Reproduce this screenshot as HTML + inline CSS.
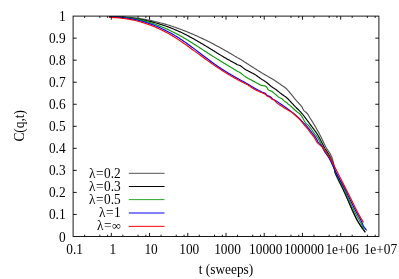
<!DOCTYPE html>
<html><head><meta charset="utf-8"><title>C(q,t)</title>
<style>html,body{margin:0;padding:0;background:#fff;}svg{display:block;}.t{will-change:transform;filter:grayscale(1);}text{font-family:"Liberation Serif",serif;font-size:14px;fill:#000;}</style>
</head><body>
<svg width="399" height="279" viewBox="0 0 399 279">
<rect x="0" y="0" width="399" height="279" fill="#ffffff"/>
<path d="M109.00 17.13 L110.00 17.07 L111.00 17.03 L112.00 16.99 L113.00 16.95 L114.00 16.93 L115.00 16.91 L116.00 16.89 L117.00 16.89 L118.00 16.89 L119.00 16.90 L120.00 16.91 L121.00 16.93 L122.00 16.96 L123.00 17.00 L124.00 17.04 L125.00 17.08 L126.00 17.14 L127.00 17.20 L128.00 17.27 L129.00 17.34 L130.00 17.42 L131.00 17.51 L132.00 17.60 L133.00 17.70 L134.00 17.81 L135.00 17.92 L136.00 18.04 L137.00 18.17 L138.00 18.30 L139.00 18.44 L140.00 18.58 L141.00 18.73 L142.00 18.89 L143.00 19.05 L144.00 19.22 L145.00 19.39 L146.00 19.57 L147.00 19.76 L148.00 19.95 L149.00 20.15 L150.00 20.35 L151.00 20.56 L152.00 20.78 L153.00 21.00 L154.00 21.23 L155.00 21.46 L156.00 21.70 L157.00 21.95 L158.00 22.20 L159.00 22.45 L160.00 22.71 L161.00 22.98 L162.00 23.25 L163.00 23.53 L164.00 23.82 L165.00 24.11 L166.00 24.40 L167.00 24.70 L168.00 25.01 L169.00 25.32 L170.00 25.63 L171.00 25.96 L172.00 26.28 L173.00 26.61 L174.00 26.95 L175.00 27.29 L176.00 27.64 L177.00 27.99 L178.00 28.35 L179.00 28.71 L180.00 29.08 L181.00 29.46 L182.00 29.83 L183.00 30.22 L184.00 30.60 L185.00 31.00 L186.00 31.39 L187.00 31.80 L188.00 32.20 L189.00 32.62 L190.00 33.03 L191.00 33.45 L192.00 33.88 L193.00 34.31 L194.00 34.75 L195.00 35.19 L196.00 35.63 L197.00 36.08 L198.00 36.53 L199.00 36.99 L200.00 37.45 L201.00 37.92 L202.00 38.39 L203.00 38.87 L204.00 39.35 L205.00 39.83 L206.00 40.32 L207.00 40.82 L208.00 41.31 L209.00 41.81 L210.00 42.32 L211.00 42.83 L212.00 43.34 L213.00 43.86 L214.00 44.38 L215.00 44.91 L216.00 45.44 L217.00 45.97 L218.00 46.51 L219.00 47.05 L220.00 47.60 L221.00 48.15 L222.00 48.70 L223.00 49.26 L224.00 49.82 L225.00 50.39 L226.00 50.95 L227.00 51.53 L228.00 52.10 L229.00 52.68 L230.00 53.26 L231.00 53.85 L232.00 54.44 L233.00 55.03 L234.00 55.63 L235.00 56.23 L236.00 56.84 L237.00 57.44 L237.66 57.80 L238.33 58.14 L239.00 58.47 L239.67 58.82 L240.32 59.18 L240.96 59.57 L241.60 59.97 L242.23 60.37 L242.85 60.79 L243.48 61.20 L244.11 61.62 L244.73 62.03 L245.36 62.43 L246.00 62.84 L246.63 63.25 L247.25 63.66 L247.88 64.06 L248.51 64.47 L249.14 64.88 L249.77 65.29 L250.40 65.70 L251.03 66.10 L251.66 66.51 L252.29 66.91 L252.93 67.32 L253.56 67.72 L254.19 68.12 L254.83 68.52 L255.46 68.92 L256.10 69.32 L256.73 69.72 L257.37 70.12 L258.00 70.52 L258.64 70.91 L259.28 71.31 L259.91 71.70 L260.55 72.10 L261.19 72.49 L261.83 72.88 L262.47 73.27 L263.11 73.66 L263.75 74.05 L264.39 74.44 L265.04 74.82 L265.68 75.20 L266.33 75.58 L266.99 75.95 L267.64 76.32 L268.29 76.69 L268.95 77.06 L269.60 77.42 L270.26 77.79 L270.91 78.16 L271.56 78.53 L272.21 78.91 L272.85 79.29 L273.49 79.68 L274.13 80.08 L274.76 80.48 L275.38 80.90 L276.00 81.32 L276.62 81.74 L277.24 82.17 L277.85 82.60 L278.47 83.03 L279.08 83.47 L279.69 83.90 L280.31 84.33 L280.92 84.76 L281.54 85.19 L282.16 85.61 L282.80 86.01 L283.44 86.41 L284.07 86.82 L284.68 87.25 L285.25 87.71 L285.81 88.20 L286.35 88.71 L286.87 89.24 L287.39 89.79 L287.89 90.35 L288.39 90.91 L288.88 91.49 L289.37 92.07 L289.86 92.65 L290.34 93.23 L290.83 93.80 L291.32 94.37 L291.80 94.95 L292.27 95.53 L292.73 96.12 L293.20 96.71 L293.66 97.31 L294.12 97.90 L294.58 98.49 L295.05 99.07 L295.53 99.65 L296.02 100.22 L296.51 100.78 L297.02 101.33 L297.54 101.88 L298.05 102.42 L298.57 102.97 L299.07 103.52 L299.57 104.08 L300.08 104.64 L300.59 105.20 L301.08 105.77 L301.55 106.36 L301.98 106.96 L302.34 107.61 L302.65 108.31 L302.96 109.01 L303.29 109.67 L303.70 110.27 L304.19 110.81 L304.75 111.32 L305.34 111.81 L305.94 112.30 L306.52 112.79 L307.07 113.31 L307.55 113.86 L307.97 114.46 L308.37 115.10 L308.74 115.75 L309.10 116.42 L309.47 117.08 L309.84 117.74 L310.23 118.38 L310.64 119.01 L311.04 119.64 L311.45 120.27 L311.86 120.90 L312.27 121.53 L312.67 122.16 L313.06 122.80 L313.45 123.44 L313.84 124.09 L314.22 124.73 L314.60 125.38 L314.98 126.02 L315.36 126.67 L315.74 127.32 L316.12 127.97 L316.49 128.62 L316.86 129.27 L317.23 129.92 L317.60 130.58 L317.96 131.24 L318.32 131.89 L318.68 132.55 L319.04 133.21 L319.40 133.87 L319.75 134.53 L320.10 135.19 L320.45 135.86 L320.78 136.53 L321.11 137.20 L321.44 137.88 L321.76 138.56 L322.08 139.24 L322.40 139.92 L322.71 140.60 L323.03 141.28 L323.35 141.97 L323.67 142.65 L323.99 143.33 L324.31 144.00 L324.64 144.68 L324.98 145.35 L325.32 146.01 L325.67 146.67 L326.02 147.33 L326.39 147.98 L326.77 148.62 L327.18 149.25 L327.60 149.87 L328.04 150.49 L328.47 151.10 L328.90 151.72 L329.31 152.35 L329.71 152.99 L330.07 153.63 L330.43 154.29 L330.77 154.96 L331.10 155.64 L331.42 156.32 L331.71 157.01 L331.98 157.71 L332.23 158.42 L332.46 159.13 L332.68 159.85 L332.89 160.57 L333.08 161.30 L333.26 162.02 L333.44 162.75 L333.60 163.49 L333.75 164.22 L333.89 164.96 L334.02 165.70 L334.14 166.44 L334.26 167.18 L334.36 167.92 L334.46 168.66 L334.54 169.41 L334.61 170.16 L334.67 170.92 L334.75 171.66 L334.87 172.38 L335.05 173.09 L335.29 173.79 L335.58 174.49 L335.90 175.18 L336.24 175.86 L336.59 176.54 L336.93 177.22 L337.26 177.91 L337.57 178.59 L337.89 179.27 L338.21 179.94 L338.54 180.61 L338.87 181.29 L339.21 181.96 L339.55 182.62 L339.90 183.29 L340.24 183.96 L340.59 184.62 L340.94 185.29 L341.28 185.96 L341.62 186.62 L341.97 187.29 L342.30 187.96 L342.64 188.63 L342.97 189.31 L343.29 189.98 L343.61 190.66 L343.93 191.34 L344.24 192.02 L344.55 192.70 L344.86 193.39 L345.17 194.07 L345.48 194.75 L345.78 195.44 L346.09 196.12 L346.39 196.81 L346.70 197.50 L347.00 198.18 L347.30 198.87 L347.60 199.56 L347.91 200.24 L348.21 200.93 L348.50 201.62 L348.80 202.31 L349.09 203.00 L349.39 203.69 L349.68 204.38 L349.97 205.07 L350.26 205.76 L350.55 206.46 L350.84 207.15 L351.14 207.84 L351.44 208.53 L351.74 209.21 L352.04 209.90 L352.35 210.58 L352.66 211.26 L352.97 211.94 L353.29 212.62 L353.61 213.30 L353.93 213.98 L354.25 214.66 L354.58 215.34 L354.90 216.02 L355.23 216.69 L355.57 217.37 L355.91 218.04 L356.25 218.71 L356.61 219.37 L356.96 220.03 L357.33 220.68 L357.70 221.33 L358.08 221.97 L358.47 222.60 L358.89 223.22 L359.31 223.84 L359.75 224.45 L360.20 225.05 L360.65 225.66 L361.10 226.26 L361.54 226.87 L361.98 227.47 L362.42 228.09 L362.85 228.70 L363.29 229.31 L363.72 229.92 L364.15 230.53 L364.59 231.14 L365.02 231.75 L365.20 232.00" fill="none" stroke="#525252" stroke-width="1.15" stroke-linejoin="round" stroke-linecap="butt"/>
<path d="M109.00 16.86 L110.00 16.85 L111.00 16.85 L112.00 16.86 L113.00 16.87 L114.00 16.89 L115.00 16.91 L116.00 16.94 L117.00 16.97 L118.00 17.01 L119.00 17.05 L120.00 17.10 L121.00 17.16 L122.00 17.22 L123.00 17.29 L124.00 17.36 L125.00 17.44 L126.00 17.52 L127.00 17.62 L128.00 17.71 L129.00 17.82 L130.00 17.92 L131.00 18.04 L132.00 18.16 L133.00 18.29 L134.00 18.42 L135.00 18.56 L136.00 18.71 L137.00 18.86 L138.00 19.02 L139.00 19.18 L140.00 19.35 L141.00 19.53 L142.00 19.71 L143.00 19.91 L144.00 20.10 L145.00 20.31 L146.00 20.52 L147.00 20.73 L148.00 20.96 L149.00 21.19 L150.00 21.43 L151.00 21.67 L152.00 21.92 L153.00 22.18 L154.00 22.44 L155.00 22.72 L156.00 23.00 L157.00 23.28 L158.00 23.57 L159.00 23.87 L160.00 24.18 L161.00 24.50 L162.00 24.82 L163.00 25.15 L164.00 25.48 L165.00 25.83 L166.00 26.18 L167.00 26.54 L168.00 26.90 L169.00 27.28 L170.00 27.66 L171.00 28.05 L172.00 28.44 L173.00 28.84 L174.00 29.26 L175.00 29.68 L176.00 30.10 L177.00 30.54 L178.00 30.98 L179.00 31.43 L180.00 31.89 L181.00 32.35 L182.00 32.83 L183.00 33.31 L184.00 33.80 L185.00 34.30 L186.00 34.81 L187.00 35.32 L188.00 35.84 L189.00 36.37 L190.00 36.90 L191.00 37.45 L192.00 37.99 L193.00 38.55 L194.00 39.11 L195.00 39.67 L196.00 40.24 L197.00 40.81 L198.00 41.38 L199.00 41.96 L200.00 42.55 L201.00 43.14 L202.00 43.73 L203.00 44.32 L204.00 44.92 L205.00 45.53 L206.00 46.13 L207.00 46.74 L208.00 47.35 L209.00 47.96 L210.00 48.58 L211.00 49.20 L212.00 49.82 L213.00 50.44 L214.00 51.06 L215.00 51.68 L216.00 52.30 L217.00 52.92 L218.00 53.54 L219.00 54.16 L220.00 54.77 L221.00 55.38 L222.00 55.98 L223.00 56.58 L224.00 57.17 L225.00 57.75 L226.00 58.33 L227.00 58.90 L228.00 59.47 L229.00 60.03 L230.00 60.59 L231.00 61.14 L232.00 61.69 L233.00 62.24 L234.00 62.79 L235.00 63.34 L236.00 63.88 L237.00 64.43 L237.69 64.72 L238.41 64.97 L239.12 65.22 L239.81 65.51 L240.46 65.85 L241.08 66.24 L241.69 66.68 L242.29 67.14 L242.88 67.62 L243.47 68.09 L244.07 68.56 L244.68 68.99 L245.31 69.39 L245.95 69.78 L246.60 70.15 L247.26 70.51 L247.92 70.86 L248.59 71.20 L249.26 71.54 L249.93 71.88 L250.61 72.22 L251.28 72.56 L251.95 72.90 L252.62 73.25 L253.28 73.60 L253.93 73.97 L254.58 74.34 L255.21 74.73 L255.84 75.14 L256.46 75.56 L257.07 75.99 L257.68 76.43 L258.29 76.87 L258.90 77.32 L259.50 77.76 L260.11 78.21 L260.72 78.64 L261.34 79.07 L261.97 79.48 L262.60 79.87 L263.26 80.25 L263.91 80.62 L264.55 81.01 L265.17 81.42 L265.78 81.86 L266.37 82.31 L266.95 82.79 L267.52 83.27 L268.09 83.77 L268.66 84.27 L269.22 84.76 L269.79 85.26 L270.37 85.74 L270.95 86.21 L271.54 86.67 L272.15 87.10 L272.78 87.51 L273.42 87.90 L274.06 88.29 L274.70 88.69 L275.31 89.12 L275.92 89.56 L276.51 90.01 L277.10 90.47 L277.69 90.94 L278.27 91.42 L278.85 91.89 L279.44 92.37 L280.02 92.84 L280.61 93.31 L281.20 93.77 L281.80 94.22 L282.41 94.66 L283.03 95.09 L283.65 95.52 L284.27 95.94 L284.89 96.37 L285.50 96.81 L286.09 97.26 L286.67 97.72 L287.24 98.21 L287.78 98.71 L288.32 99.24 L288.84 99.77 L289.35 100.32 L289.86 100.87 L290.37 101.43 L290.88 101.99 L291.39 102.55 L291.90 103.10 L292.42 103.64 L292.93 104.18 L293.45 104.73 L293.96 105.28 L294.48 105.82 L294.99 106.36 L295.51 106.90 L296.04 107.44 L296.57 107.97 L297.11 108.49 L297.66 109.00 L298.21 109.52 L298.75 110.04 L299.28 110.56 L299.81 111.10 L300.32 111.64 L300.82 112.20 L301.31 112.77 L301.79 113.35 L302.27 113.93 L302.74 114.51 L303.21 115.09 L303.67 115.68 L304.13 116.27 L304.59 116.87 L305.04 117.47 L305.49 118.07 L305.94 118.67 L306.39 119.27 L306.84 119.87 L307.28 120.48 L307.73 121.08 L308.17 121.68 L308.62 122.29 L309.07 122.89 L309.51 123.49 L309.97 124.09 L310.42 124.69 L310.87 125.29 L311.33 125.89 L311.78 126.49 L312.24 127.09 L312.69 127.69 L313.15 128.29 L313.60 128.89 L314.04 129.50 L314.49 130.10 L314.93 130.71 L315.36 131.32 L315.79 131.94 L316.21 132.55 L316.63 133.17 L317.04 133.80 L317.44 134.43 L317.84 135.06 L318.22 135.70 L318.59 136.34 L318.96 136.99 L319.32 137.65 L319.67 138.31 L320.02 138.98 L320.36 139.65 L320.70 140.32 L321.03 140.99 L321.37 141.66 L321.70 142.34 L322.04 143.01 L322.38 143.68 L322.72 144.35 L323.06 145.02 L323.41 145.69 L323.77 146.35 L324.13 147.01 L324.50 147.66 L324.88 148.30 L325.27 148.94 L325.68 149.57 L326.09 150.20 L326.50 150.82 L326.92 151.45 L327.33 152.08 L327.73 152.71 L328.11 153.35 L328.50 154.00 L328.89 154.64 L329.27 155.29 L329.64 155.94 L330.00 156.60 L330.33 157.27 L330.65 157.95 L330.95 158.63 L331.24 159.32 L331.53 160.02 L331.82 160.71 L332.12 161.40 L332.42 162.09 L332.72 162.78 L333.01 163.48 L333.27 164.18 L333.48 164.89 L333.67 165.61 L333.84 166.34 L333.99 167.08 L334.15 167.82 L334.31 168.55 L334.47 169.28 L334.62 170.02 L334.78 170.76 L334.96 171.49 L335.16 172.20 L335.41 172.90 L335.69 173.59 L336.00 174.27 L336.33 174.95 L336.67 175.62 L337.01 176.30 L337.35 176.97 L337.67 177.65 L337.99 178.33 L338.30 179.01 L338.62 179.69 L338.94 180.37 L339.26 181.05 L339.59 181.73 L339.91 182.40 L340.23 183.08 L340.56 183.76 L340.88 184.43 L341.20 185.11 L341.52 185.79 L341.85 186.46 L342.17 187.14 L342.49 187.82 L342.80 188.50 L343.12 189.18 L343.44 189.86 L343.75 190.54 L344.06 191.22 L344.37 191.91 L344.68 192.59 L344.99 193.27 L345.30 193.96 L345.61 194.64 L345.92 195.32 L346.22 196.01 L346.53 196.69 L346.83 197.38 L347.14 198.06 L347.44 198.75 L347.75 199.43 L348.05 200.12 L348.36 200.81 L348.66 201.49 L348.95 202.18 L349.25 202.87 L349.55 203.56 L349.84 204.25 L350.14 204.94 L350.43 205.63 L350.73 206.32 L351.02 207.01 L351.32 207.70 L351.62 208.39 L351.92 209.07 L352.23 209.76 L352.53 210.44 L352.84 211.12 L353.16 211.80 L353.48 212.48 L353.79 213.16 L354.11 213.84 L354.43 214.52 L354.75 215.20 L355.07 215.88 L355.40 216.56 L355.73 217.24 L356.06 217.91 L356.40 218.58 L356.74 219.25 L357.09 219.91 L357.45 220.57 L357.81 221.22 L358.18 221.87 L358.55 222.52 L358.93 223.16 L359.32 223.79 L359.72 224.43 L360.12 225.06 L360.52 225.69 L360.94 226.32 L361.35 226.94 L361.78 227.56 L362.21 228.17 L362.65 228.79 L363.09 229.40 L363.53 230.00 L363.99 230.61 L364.44 231.21 L364.91 231.80 L365.30 232.30" fill="none" stroke="#000000" stroke-width="1.15" stroke-linejoin="round" stroke-linecap="butt"/>
<path d="M109.00 17.11 L110.00 17.06 L111.00 17.02 L112.00 16.99 L113.00 16.96 L114.00 16.95 L115.00 16.95 L116.00 16.95 L117.00 16.97 L118.00 16.99 L119.00 17.03 L120.00 17.07 L121.00 17.13 L122.00 17.19 L123.00 17.26 L124.00 17.34 L125.00 17.43 L126.00 17.53 L127.00 17.64 L128.00 17.76 L129.00 17.88 L130.00 18.02 L131.00 18.16 L132.00 18.32 L133.00 18.48 L134.00 18.65 L135.00 18.83 L136.00 19.02 L137.00 19.22 L138.00 19.42 L139.00 19.64 L140.00 19.86 L141.00 20.10 L142.00 20.34 L143.00 20.59 L144.00 20.85 L145.00 21.11 L146.00 21.39 L147.00 21.67 L148.00 21.97 L149.00 22.27 L150.00 22.58 L151.00 22.90 L152.00 23.22 L153.00 23.56 L154.00 23.90 L155.00 24.25 L156.00 24.61 L157.00 24.98 L158.00 25.36 L159.00 25.74 L160.00 26.13 L161.00 26.53 L162.00 26.94 L163.00 27.36 L164.00 27.78 L165.00 28.22 L166.00 28.66 L167.00 29.10 L168.00 29.56 L169.00 30.02 L170.00 30.50 L171.00 30.98 L172.00 31.46 L173.00 31.96 L174.00 32.46 L175.00 32.97 L176.00 33.49 L177.00 34.02 L178.00 34.55 L179.00 35.09 L180.00 35.64 L181.00 36.19 L182.00 36.76 L183.00 37.33 L184.00 37.91 L185.00 38.49 L186.00 39.08 L187.00 39.68 L188.00 40.29 L189.00 40.90 L190.00 41.52 L191.00 42.14 L192.00 42.77 L193.00 43.40 L194.00 44.04 L195.00 44.68 L196.00 45.32 L197.00 45.97 L198.00 46.62 L199.00 47.27 L200.00 47.92 L201.00 48.58 L202.00 49.23 L203.00 49.88 L204.00 50.54 L205.00 51.19 L206.00 51.85 L207.00 52.50 L208.00 53.15 L209.00 53.80 L210.00 54.45 L211.00 55.09 L212.00 55.73 L213.00 56.37 L214.00 57.00 L215.00 57.63 L216.00 58.25 L217.00 58.87 L218.00 59.49 L219.00 60.10 L220.00 60.72 L221.00 61.33 L222.00 61.93 L223.00 62.54 L224.00 63.15 L225.00 63.75 L226.00 64.36 L227.00 64.96 L228.00 65.56 L229.00 66.17 L230.00 66.78 L231.00 67.38 L232.00 67.99 L233.00 68.60 L234.00 69.22 L235.00 69.83 L236.00 70.45 L237.00 71.08 L237.66 71.43 L238.34 71.75 L239.02 72.08 L239.69 72.42 L240.32 72.80 L240.93 73.23 L241.52 73.69 L242.10 74.17 L242.68 74.67 L243.25 75.16 L243.83 75.64 L244.43 76.10 L245.04 76.52 L245.66 76.93 L246.30 77.32 L246.94 77.70 L247.59 78.07 L248.24 78.44 L248.90 78.79 L249.56 79.15 L250.23 79.50 L250.90 79.84 L251.57 80.19 L252.24 80.53 L252.91 80.88 L253.57 81.23 L254.24 81.58 L254.90 81.94 L255.55 82.31 L256.20 82.68 L256.85 83.06 L257.51 83.43 L258.17 83.78 L258.84 84.12 L259.51 84.46 L260.19 84.81 L260.87 85.12 L261.57 85.38 L262.29 85.56 L263.04 85.68 L263.81 85.77 L264.55 85.89 L265.23 86.08 L265.89 86.45 L266.50 86.96 L267.00 87.50 L267.36 88.17 L267.65 88.91 L268.01 89.51 L268.53 89.93 L269.17 90.27 L269.89 90.56 L270.65 90.85 L271.38 91.16 L272.04 91.53 L272.64 91.95 L273.22 92.42 L273.79 92.92 L274.35 93.43 L274.92 93.93 L275.48 94.43 L276.04 94.93 L276.60 95.43 L277.19 95.89 L277.78 96.35 L278.40 96.79 L279.02 97.20 L279.66 97.59 L280.33 97.93 L281.02 98.25 L281.69 98.60 L282.28 99.02 L282.82 99.54 L283.32 100.11 L283.83 100.68 L284.37 101.20 L284.98 101.62 L285.65 101.98 L286.33 102.34 L286.94 102.75 L287.43 103.30 L287.90 103.90 L288.47 104.35 L289.13 104.74 L289.77 105.13 L290.35 105.60 L290.88 106.13 L291.40 106.68 L291.92 107.22 L292.46 107.74 L293.01 108.26 L293.55 108.78 L294.10 109.29 L294.66 109.80 L295.21 110.30 L295.78 110.79 L296.35 111.27 L296.93 111.75 L297.54 112.19 L298.17 112.61 L298.80 113.03 L299.38 113.49 L299.90 114.00 L300.39 114.57 L300.85 115.17 L301.29 115.78 L301.73 116.41 L302.15 117.02 L302.56 117.66 L302.94 118.31 L303.31 118.98 L303.67 119.65 L304.03 120.32 L304.40 120.99 L304.78 121.63 L305.19 122.25 L305.62 122.85 L306.09 123.40 L306.64 123.89 L307.24 124.36 L307.83 124.84 L308.36 125.36 L308.87 125.91 L309.37 126.48 L309.85 127.06 L310.32 127.64 L310.78 128.23 L311.22 128.84 L311.64 129.46 L312.06 130.09 L312.46 130.72 L312.87 131.36 L313.28 131.99 L313.70 132.61 L314.13 133.22 L314.59 133.81 L315.09 134.36 L315.63 134.89 L316.12 135.45 L316.55 136.04 L316.97 136.65 L317.38 137.27 L317.76 137.90 L318.14 138.55 L318.51 139.20 L318.87 139.86 L319.22 140.53 L319.56 141.20 L319.90 141.88 L320.24 142.56 L320.58 143.24 L320.93 143.91 L321.27 144.59 L321.63 145.26 L321.98 145.92 L322.35 146.58 L322.73 147.23 L323.13 147.86 L323.53 148.49 L323.95 149.12 L324.38 149.74 L324.81 150.36 L325.25 150.97 L325.69 151.59 L326.13 152.20 L326.58 152.81 L327.01 153.42 L327.45 154.04 L327.87 154.66 L328.29 155.28 L328.69 155.91 L329.08 156.54 L329.46 157.18 L329.81 157.83 L330.15 158.49 L330.48 159.16 L330.79 159.83 L331.10 160.51 L331.40 161.19 L331.69 161.88 L331.97 162.58 L332.25 163.27 L332.52 163.98 L332.79 164.68 L333.06 165.38 L333.33 166.09 L333.60 166.79 L333.87 167.50 L334.14 168.20 L334.41 168.91 L334.69 169.61 L334.97 170.30 L335.26 171.00 L335.56 171.69 L335.87 172.37 L336.18 173.05 L336.49 173.73 L336.81 174.41 L337.13 175.09 L337.45 175.76 L337.78 176.44 L338.11 177.11 L338.44 177.78 L338.78 178.46 L339.11 179.13 L339.45 179.80 L339.79 180.47 L340.12 181.14 L340.46 181.81 L340.80 182.48 L341.14 183.15 L341.48 183.82 L341.81 184.49 L342.15 185.16 L342.49 185.83 L342.82 186.50 L343.15 187.18 L343.48 187.85 L343.80 188.53 L344.13 189.20 L344.44 189.88 L344.76 190.56 L345.07 191.24 L345.38 191.93 L345.69 192.61 L346.00 193.29 L346.30 193.98 L346.61 194.67 L346.91 195.35 L347.21 196.04 L347.52 196.72 L347.82 197.41 L348.13 198.09 L348.44 198.78 L348.75 199.46 L349.06 200.14 L349.38 200.82 L349.70 201.50 L350.01 202.18 L350.33 202.86 L350.64 203.54 L350.96 204.22 L351.28 204.90 L351.60 205.58 L351.92 206.26 L352.25 206.93 L352.57 207.61 L352.90 208.29 L353.23 208.96 L353.56 209.63 L353.89 210.30 L354.23 210.97 L354.57 211.64 L354.91 212.31 L355.26 212.97 L355.61 213.63 L355.96 214.29 L356.32 214.95 L356.68 215.61 L357.05 216.26 L357.42 216.92 L357.78 217.57 L358.15 218.23 L358.52 218.88 L358.89 219.54 L359.25 220.19 L359.62 220.85 L359.98 221.50 L360.34 222.16 L360.70 222.82 L361.05 223.48 L361.41 224.14 L361.77 224.80 L362.13 225.46 L362.48 226.12 L362.84 226.78 L363.19 227.44 L363.55 228.10 L363.90 228.76 L364.26 229.42 L364.30 229.50" fill="none" stroke="#0a980a" stroke-width="1.15" stroke-linejoin="round" stroke-linecap="butt"/>
<path d="M109.00 17.02 L110.00 17.02 L111.00 17.01 L112.00 17.02 L113.00 17.04 L114.00 17.06 L115.00 17.09 L116.00 17.14 L117.00 17.19 L118.00 17.24 L119.00 17.31 L120.00 17.39 L121.00 17.47 L122.00 17.56 L123.00 17.66 L124.00 17.77 L125.00 17.89 L126.00 18.02 L127.00 18.15 L128.00 18.30 L129.00 18.45 L130.00 18.62 L131.00 18.79 L132.00 18.97 L133.00 19.16 L134.00 19.36 L135.00 19.56 L136.00 19.78 L137.00 20.00 L138.00 20.24 L139.00 20.48 L140.00 20.74 L141.00 21.00 L142.00 21.27 L143.00 21.55 L144.00 21.84 L145.00 22.14 L146.00 22.45 L147.00 22.77 L148.00 23.10 L149.00 23.43 L150.00 23.78 L151.00 24.13 L152.00 24.50 L153.00 24.88 L154.00 25.26 L155.00 25.66 L156.00 26.06 L157.00 26.47 L158.00 26.90 L159.00 27.33 L160.00 27.77 L161.00 28.23 L162.00 28.69 L163.00 29.16 L164.00 29.65 L165.00 30.14 L166.00 30.64 L167.00 31.15 L168.00 31.68 L169.00 32.21 L170.00 32.75 L171.00 33.30 L172.00 33.87 L173.00 34.44 L174.00 35.02 L175.00 35.62 L176.00 36.22 L177.00 36.84 L178.00 37.46 L179.00 38.10 L180.00 38.74 L181.00 39.40 L182.00 40.07 L183.00 40.74 L184.00 41.43 L185.00 42.12 L186.00 42.82 L187.00 43.53 L188.00 44.25 L189.00 44.97 L190.00 45.70 L191.00 46.43 L192.00 47.17 L193.00 47.91 L194.00 48.66 L195.00 49.41 L196.00 50.16 L197.00 50.92 L198.00 51.68 L199.00 52.44 L200.00 53.20 L201.00 53.96 L202.00 54.72 L203.00 55.48 L204.00 56.24 L205.00 57.00 L206.00 57.76 L207.00 58.51 L208.00 59.26 L209.00 60.01 L210.00 60.75 L211.00 61.49 L212.00 62.22 L213.00 62.95 L214.00 63.67 L215.00 64.39 L216.00 65.09 L217.00 65.79 L218.00 66.49 L219.00 67.17 L220.00 67.84 L221.00 68.51 L222.00 69.16 L223.00 69.81 L224.00 70.45 L225.00 71.08 L226.00 71.70 L227.00 72.32 L228.00 72.93 L229.00 73.53 L230.00 74.12 L231.00 74.71 L232.00 75.29 L233.00 75.87 L234.00 76.45 L235.00 77.01 L236.00 77.58 L237.00 78.14 L237.66 78.50 L238.31 78.86 L238.97 79.22 L239.63 79.58 L240.29 79.93 L240.95 80.29 L241.62 80.64 L242.28 81.00 L242.93 81.36 L243.59 81.72 L244.25 82.08 L244.90 82.45 L245.56 82.82 L246.21 83.19 L246.85 83.57 L247.50 83.94 L248.15 84.32 L248.79 84.71 L249.44 85.10 L250.08 85.49 L250.72 85.88 L251.36 86.27 L252.00 86.66 L252.64 87.04 L253.29 87.42 L253.94 87.80 L254.59 88.17 L255.24 88.53 L255.90 88.90 L256.56 89.26 L257.22 89.61 L257.88 89.97 L258.55 90.32 L259.21 90.66 L259.88 91.00 L260.56 91.33 L261.23 91.65 L261.91 91.96 L262.62 92.24 L263.34 92.49 L264.06 92.75 L264.73 93.05 L265.32 93.45 L265.84 94.00 L266.36 94.57 L266.93 95.06 L267.53 95.51 L268.17 95.89 L268.88 96.16 L269.61 96.40 L270.29 96.68 L270.88 97.10 L271.39 97.66 L271.91 98.22 L272.49 98.68 L273.10 99.11 L273.72 99.52 L274.37 99.91 L275.02 100.29 L275.67 100.68 L276.32 101.07 L276.95 101.47 L277.58 101.88 L278.20 102.30 L278.82 102.72 L279.44 103.14 L280.06 103.57 L280.68 103.99 L281.30 104.42 L281.92 104.84 L282.53 105.27 L283.15 105.69 L283.77 106.12 L284.38 106.55 L285.00 106.97 L285.61 107.41 L286.23 107.84 L286.83 108.28 L287.44 108.72 L288.04 109.17 L288.64 109.61 L289.24 110.06 L289.84 110.52 L290.44 110.97 L291.03 111.43 L291.62 111.90 L292.21 112.36 L292.79 112.84 L293.37 113.31 L293.94 113.79 L294.52 114.28 L295.09 114.76 L295.66 115.25 L296.23 115.74 L296.80 116.23 L297.37 116.71 L297.95 117.19 L298.53 117.67 L299.10 118.16 L299.65 118.66 L300.18 119.19 L300.68 119.75 L301.16 120.32 L301.65 120.90 L302.15 121.46 L302.66 122.00 L303.19 122.54 L303.72 123.07 L304.25 123.60 L304.79 124.12 L305.32 124.65 L305.84 125.19 L306.36 125.73 L306.86 126.29 L307.35 126.86 L307.83 127.43 L308.31 128.01 L308.78 128.60 L309.24 129.19 L309.69 129.78 L310.14 130.38 L310.59 130.98 L311.04 131.59 L311.49 132.19 L311.95 132.78 L312.40 133.38 L312.87 133.96 L313.35 134.54 L313.84 135.12 L314.32 135.70 L314.79 136.28 L315.22 136.89 L315.63 137.51 L316.01 138.15 L316.38 138.81 L316.74 139.47 L317.10 140.13 L317.45 140.79 L317.79 141.47 L318.15 142.12 L318.58 142.72 L319.08 143.29 L319.63 143.83 L320.20 144.36 L320.77 144.88 L321.32 145.42 L321.82 145.97 L322.25 146.56 L322.58 147.19 L322.83 147.89 L323.06 148.62 L323.34 149.31 L323.66 149.97 L324.02 150.62 L324.40 151.26 L324.81 151.89 L325.23 152.51 L325.67 153.13 L326.11 153.74 L326.56 154.36 L327.01 154.97 L327.45 155.59 L327.88 156.21 L328.30 156.84 L328.69 157.47 L329.07 158.12 L329.43 158.77 L329.78 159.43 L330.12 160.09 L330.46 160.76 L330.80 161.43 L331.12 162.11 L331.45 162.78 L331.77 163.46 L332.09 164.14 L332.40 164.82 L332.72 165.51 L333.03 166.19 L333.35 166.87 L333.66 167.56 L333.98 168.24 L334.30 168.92 L334.62 169.60 L334.94 170.27 L335.27 170.95 L335.61 171.62 L335.95 172.29 L336.29 172.95 L336.64 173.62 L336.99 174.28 L337.34 174.94 L337.69 175.60 L338.05 176.26 L338.41 176.92 L338.77 177.58 L339.13 178.24 L339.49 178.90 L339.86 179.55 L340.22 180.21 L340.59 180.86 L340.95 181.52 L341.31 182.18 L341.68 182.83 L342.04 183.49 L342.40 184.15 L342.76 184.81 L343.12 185.47 L343.47 186.13 L343.83 186.79 L344.18 187.45 L344.53 188.11 L344.87 188.78 L345.22 189.44 L345.56 190.11 L345.89 190.78 L346.22 191.45 L346.55 192.13 L346.88 192.80 L347.20 193.48 L347.52 194.16 L347.84 194.84 L348.16 195.52 L348.48 196.19 L348.80 196.87 L349.12 197.55 L349.44 198.23 L349.77 198.91 L350.10 199.58 L350.42 200.25 L350.75 200.93 L351.08 201.60 L351.41 202.28 L351.74 202.95 L352.08 203.62 L352.41 204.30 L352.74 204.97 L353.07 205.64 L353.41 206.31 L353.74 206.98 L354.08 207.65 L354.41 208.32 L354.75 208.99 L355.09 209.66 L355.43 210.33 L355.78 211.00 L356.12 211.66 L356.47 212.32 L356.82 212.99 L357.19 213.64 L357.55 214.30 L357.92 214.95 L358.29 215.61 L358.66 216.26 L359.03 216.91 L359.40 217.57 L359.77 218.22 L360.13 218.88 L360.49 219.54 L360.84 220.20 L361.19 220.86 L361.52 221.53 L361.85 222.21 L362.15 222.90 L362.43 223.60 L362.71 224.30 L363.00 224.99 L363.32 225.66 L363.68 226.31 L364.07 226.94 L364.48 227.55 L364.92 228.16 L365.39 228.75 L365.89 229.33 L366.40 229.89 L366.80 230.30" fill="none" stroke="#0000ff" stroke-width="1.15" stroke-linejoin="round" stroke-linecap="butt"/>
<path d="M109.00 17.47 L110.00 17.48 L111.00 17.50 L112.00 17.52 L113.00 17.56 L114.00 17.60 L115.00 17.65 L116.00 17.71 L117.00 17.78 L118.00 17.85 L119.00 17.94 L120.00 18.03 L121.00 18.13 L122.00 18.24 L123.00 18.36 L124.00 18.49 L125.00 18.63 L126.00 18.77 L127.00 18.93 L128.00 19.09 L129.00 19.26 L130.00 19.44 L131.00 19.63 L132.00 19.83 L133.00 20.04 L134.00 20.26 L135.00 20.49 L136.00 20.72 L137.00 20.97 L138.00 21.22 L139.00 21.49 L140.00 21.76 L141.00 22.04 L142.00 22.33 L143.00 22.63 L144.00 22.94 L145.00 23.26 L146.00 23.59 L147.00 23.93 L148.00 24.28 L149.00 24.64 L150.00 25.01 L151.00 25.39 L152.00 25.77 L153.00 26.17 L154.00 26.58 L155.00 26.99 L156.00 27.42 L157.00 27.86 L158.00 28.30 L159.00 28.76 L160.00 29.22 L161.00 29.70 L162.00 30.19 L163.00 30.68 L164.00 31.19 L165.00 31.71 L166.00 32.23 L167.00 32.77 L168.00 33.32 L169.00 33.87 L170.00 34.44 L171.00 35.02 L172.00 35.61 L173.00 36.21 L174.00 36.82 L175.00 37.44 L176.00 38.07 L177.00 38.71 L178.00 39.36 L179.00 40.02 L180.00 40.68 L181.00 41.36 L182.00 42.04 L183.00 42.73 L184.00 43.43 L185.00 44.13 L186.00 44.84 L187.00 45.55 L188.00 46.27 L189.00 46.99 L190.00 47.72 L191.00 48.45 L192.00 49.18 L193.00 49.92 L194.00 50.65 L195.00 51.39 L196.00 52.13 L197.00 52.86 L198.00 53.60 L199.00 54.34 L200.00 55.07 L201.00 55.81 L202.00 56.54 L203.00 57.27 L204.00 57.99 L205.00 58.72 L206.00 59.44 L207.00 60.15 L208.00 60.86 L209.00 61.57 L210.00 62.28 L211.00 62.98 L212.00 63.68 L213.00 64.37 L214.00 65.06 L215.00 65.74 L216.00 66.42 L217.00 67.10 L218.00 67.77 L219.00 68.43 L220.00 69.09 L221.00 69.75 L222.00 70.40 L223.00 71.04 L224.00 71.68 L225.00 72.31 L226.00 72.93 L227.00 73.55 L228.00 74.16 L229.00 74.77 L230.00 75.37 L231.00 75.96 L232.00 76.55 L233.00 77.12 L234.00 77.70 L235.00 78.26 L236.00 78.82 L237.00 79.36 L237.66 79.72 L238.32 80.07 L238.98 80.43 L239.65 80.78 L240.31 81.13 L240.97 81.48 L241.64 81.82 L242.31 82.17 L242.98 82.51 L243.65 82.84 L244.32 83.17 L244.99 83.50 L245.68 83.80 L246.35 84.13 L247.01 84.49 L247.65 84.87 L248.29 85.26 L248.92 85.67 L249.55 86.09 L250.17 86.51 L250.79 86.94 L251.41 87.37 L252.04 87.79 L252.66 88.21 L253.29 88.61 L253.93 89.00 L254.58 89.37 L255.24 89.72 L255.90 90.06 L256.57 90.39 L257.25 90.72 L257.93 91.03 L258.62 91.34 L259.31 91.65 L259.99 91.95 L260.69 92.24 L261.38 92.54 L262.07 92.83 L262.78 93.09 L263.51 93.34 L264.22 93.61 L264.87 93.92 L265.44 94.36 L265.95 94.93 L266.48 95.48 L267.06 95.96 L267.67 96.40 L268.32 96.75 L269.05 97.01 L269.78 97.26 L270.44 97.56 L270.96 98.06 L271.42 98.71 L271.92 99.25 L272.58 99.54 L273.33 99.75 L274.03 100.01 L274.61 100.42 L275.14 100.94 L275.64 101.52 L276.14 102.12 L276.66 102.69 L277.22 103.18 L277.81 103.64 L278.43 104.08 L279.05 104.50 L279.68 104.91 L280.32 105.30 L280.97 105.68 L281.61 106.06 L282.25 106.46 L282.87 106.88 L283.48 107.31 L284.10 107.74 L284.73 108.14 L285.37 108.53 L286.01 108.92 L286.66 109.30 L287.31 109.68 L287.96 110.06 L288.61 110.43 L289.27 110.80 L289.92 111.18 L290.56 111.56 L291.20 111.96 L291.82 112.37 L292.42 112.81 L293.01 113.26 L293.59 113.74 L294.16 114.23 L294.72 114.72 L295.28 115.23 L295.84 115.74 L296.39 116.25 L296.95 116.75 L297.51 117.25 L298.07 117.75 L298.64 118.25 L299.19 118.76 L299.71 119.29 L300.21 119.84 L300.68 120.43 L301.13 121.03 L301.57 121.64 L302.03 122.24 L302.50 122.82 L302.97 123.40 L303.45 123.98 L303.93 124.56 L304.41 125.13 L304.90 125.70 L305.39 126.27 L305.90 126.82 L306.42 127.36 L306.94 127.90 L307.42 128.47 L307.89 129.06 L308.34 129.65 L308.78 130.26 L309.21 130.88 L309.64 131.50 L310.07 132.11 L310.51 132.72 L310.96 133.32 L311.43 133.91 L311.92 134.48 L312.42 135.04 L312.91 135.61 L313.39 136.19 L313.85 136.78 L314.26 137.40 L314.65 138.03 L315.02 138.69 L315.37 139.35 L315.73 140.01 L316.09 140.67 L316.44 141.35 L316.80 142.01 L317.23 142.59 L317.72 143.13 L318.27 143.64 L318.85 144.13 L319.45 144.60 L320.05 145.08 L320.63 145.57 L321.19 146.08 L321.70 146.62 L322.18 147.20 L322.64 147.79 L323.10 148.39 L323.56 148.98 L324.02 149.57 L324.48 150.17 L324.93 150.77 L325.39 151.37 L325.84 151.97 L326.29 152.57 L326.74 153.18 L327.18 153.79 L327.61 154.40 L328.04 155.01 L328.47 155.63 L328.88 156.25 L329.29 156.88 L329.69 157.51 L330.09 158.14 L330.47 158.78 L330.85 159.42 L331.22 160.07 L331.58 160.72 L331.94 161.38 L332.29 162.04 L332.64 162.70 L332.98 163.37 L333.33 164.04 L333.67 164.71 L334.00 165.38 L334.34 166.06 L334.67 166.73 L335.00 167.41 L335.34 168.08 L335.67 168.76 L336.00 169.43 L336.34 170.10 L336.68 170.78 L337.02 171.45 L337.36 172.11 L337.70 172.78 L338.05 173.45 L338.39 174.11 L338.73 174.78 L339.08 175.45 L339.42 176.11 L339.76 176.78 L340.11 177.45 L340.45 178.11 L340.79 178.78 L341.13 179.45 L341.47 180.12 L341.82 180.78 L342.16 181.45 L342.50 182.12 L342.84 182.79 L343.18 183.46 L343.52 184.12 L343.86 184.79 L344.20 185.46 L344.54 186.13 L344.88 186.80 L345.22 187.47 L345.56 188.14 L345.90 188.81 L346.23 189.47 L346.57 190.14 L346.91 190.81 L347.25 191.48 L347.58 192.15 L347.92 192.82 L348.26 193.50 L348.59 194.17 L348.93 194.84 L349.26 195.51 L349.59 196.18 L349.93 196.85 L350.26 197.52 L350.60 198.19 L350.93 198.87 L351.27 199.54 L351.60 200.21 L351.94 200.88 L352.27 201.55 L352.60 202.22 L352.93 202.90 L353.26 203.57 L353.59 204.25 L353.92 204.92 L354.25 205.59 L354.58 206.27 L354.91 206.94 L355.25 207.61 L355.58 208.28 L355.92 208.95 L356.26 209.62 L356.60 210.29 L356.95 210.95 L357.30 211.62 L357.65 212.28 L358.00 212.94 L358.36 213.60 L358.72 214.25 L359.09 214.91 L359.45 215.56 L359.82 216.22 L360.19 216.87 L360.56 217.52 L360.93 218.17 L361.31 218.82 L361.69 219.47 L362.07 220.11 L362.45 220.76 L362.84 221.40 L363.23 222.05 L363.50 222.50" fill="none" stroke="#ff0000" stroke-width="1.15" stroke-linejoin="round" stroke-linecap="butt"/>
<path d="M73.10 214.46h3.6M378.90 214.46h-3.6M73.10 192.42h3.6M378.90 192.42h-3.6M73.10 170.38h3.6M378.90 170.38h-3.6M73.10 148.34h3.6M378.90 148.34h-3.6M73.10 126.30h3.6M378.90 126.30h-3.6M73.10 104.26h3.6M378.90 104.26h-3.6M73.10 82.22h3.6M378.90 82.22h-3.6M73.10 60.18h3.6M378.90 60.18h-3.6M73.10 38.14h3.6M378.90 38.14h-3.6M84.61 236.50v-1.8M84.61 16.10v1.8M99.82 236.50v-1.8M99.82 16.10v1.8M107.62 236.50v-1.8M107.62 16.10v1.8M111.32 236.50v-3.6M111.32 16.10v3.6M122.83 236.50v-1.8M122.83 16.10v1.8M138.04 236.50v-1.8M138.04 16.10v1.8M145.85 236.50v-1.8M145.85 16.10v1.8M149.55 236.50v-3.6M149.55 16.10v3.6M161.06 236.50v-1.8M161.06 16.10v1.8M176.27 236.50v-1.8M176.27 16.10v1.8M184.07 236.50v-1.8M184.07 16.10v1.8M187.77 236.50v-3.6M187.77 16.10v3.6M199.28 236.50v-1.8M199.28 16.10v1.8M214.49 236.50v-1.8M214.49 16.10v1.8M222.30 236.50v-1.8M222.30 16.10v1.8M226.00 236.50v-3.6M226.00 16.10v3.6M237.51 236.50v-1.8M237.51 16.10v1.8M252.72 236.50v-1.8M252.72 16.10v1.8M260.52 236.50v-1.8M260.52 16.10v1.8M264.22 236.50v-3.6M264.22 16.10v3.6M275.73 236.50v-1.8M275.73 16.10v1.8M290.94 236.50v-1.8M290.94 16.10v1.8M298.75 236.50v-1.8M298.75 16.10v1.8M302.45 236.50v-3.6M302.45 16.10v3.6M313.96 236.50v-1.8M313.96 16.10v1.8M329.17 236.50v-1.8M329.17 16.10v1.8M336.97 236.50v-1.8M336.97 16.10v1.8M340.67 236.50v-3.6M340.67 16.10v3.6M352.18 236.50v-1.8M352.18 16.10v1.8M367.39 236.50v-1.8M367.39 16.10v1.8M375.20 236.50v-1.8M375.20 16.10v1.8" fill="none" stroke="#000" stroke-width="0.9"/>
<rect x="73.10" y="16.10" width="305.80" height="220.40" fill="none" stroke="#000" stroke-width="0.9"/>
<g class="t">
<text transform="translate(65.60 241.50) scale(0.955 1)" text-anchor="end">0</text>
<text transform="translate(65.60 219.46) scale(0.955 1)" text-anchor="end">0.1</text>
<text transform="translate(65.60 197.42) scale(0.955 1)" text-anchor="end">0.2</text>
<text transform="translate(65.60 175.38) scale(0.955 1)" text-anchor="end">0.3</text>
<text transform="translate(65.60 153.34) scale(0.955 1)" text-anchor="end">0.4</text>
<text transform="translate(65.60 131.30) scale(0.955 1)" text-anchor="end">0.5</text>
<text transform="translate(65.60 109.26) scale(0.955 1)" text-anchor="end">0.6</text>
<text transform="translate(65.60 87.22) scale(0.955 1)" text-anchor="end">0.7</text>
<text transform="translate(65.60 65.18) scale(0.955 1)" text-anchor="end">0.8</text>
<text transform="translate(65.60 43.14) scale(0.955 1)" text-anchor="end">0.9</text>
<text transform="translate(65.60 21.10) scale(0.955 1)" text-anchor="end">1</text>
<text transform="translate(74.60 254.10) scale(0.955 1)" text-anchor="middle">0.1</text>
<text transform="translate(112.82 254.10) scale(0.955 1)" text-anchor="middle">1</text>
<text transform="translate(151.05 254.10) scale(0.955 1)" text-anchor="middle">10</text>
<text transform="translate(189.27 254.10) scale(0.955 1)" text-anchor="middle">100</text>
<text transform="translate(227.50 254.10) scale(0.955 1)" text-anchor="middle">1000</text>
<text transform="translate(265.72 254.10) scale(0.955 1)" text-anchor="middle">10000</text>
<text transform="translate(303.95 254.10) scale(0.955 1)" text-anchor="middle">100000</text>
<text transform="translate(342.17 254.10) scale(0.955 1)" text-anchor="middle">1e+06</text>
<text transform="translate(380.40 254.10) scale(0.955 1)" text-anchor="middle">1e+07</text>
<text transform="translate(226.00 274.10) scale(0.955 1)" text-anchor="middle">t (sweeps)</text>
<text transform="translate(23.80 125.80) rotate(-90) scale(0.955 1)" text-anchor="middle">C(q,t)</text>
<text transform="translate(120.80 177.65) scale(0.955 1)" text-anchor="end"><tspan style="letter-spacing:0.55px">λ=</tspan>0.2</text>
<text transform="translate(120.80 190.85) scale(0.955 1)" text-anchor="end"><tspan style="letter-spacing:0.55px">λ=</tspan>0.3</text>
<text transform="translate(120.80 204.05) scale(0.955 1)" text-anchor="end"><tspan style="letter-spacing:0.55px">λ=</tspan>0.5</text>
<text transform="translate(120.80 217.25) scale(0.955 1)" text-anchor="end"><tspan style="letter-spacing:0.55px">λ=</tspan>1</text>
<text transform="translate(120.80 230.45) scale(0.955 1)" text-anchor="end"><tspan style="letter-spacing:0.55px">λ=</tspan><tspan style="font-size:13px">∞</tspan></text>
</g>
<path d="M128.8 173.30H164.5" stroke="#525252" stroke-width="1" fill="none"/>
<path d="M128.8 186.50H164.5" stroke="#000000" stroke-width="1" fill="none"/>
<path d="M128.8 199.60H164.5" stroke="#0a980a" stroke-width="0.85" fill="none"/>
<path d="M128.8 213.00H164.5" stroke="#0000ff" stroke-width="1" fill="none"/>
<path d="M128.8 226.35H164.5" stroke="#ff0000" stroke-width="1" fill="none"/>
</svg>
</body></html>
